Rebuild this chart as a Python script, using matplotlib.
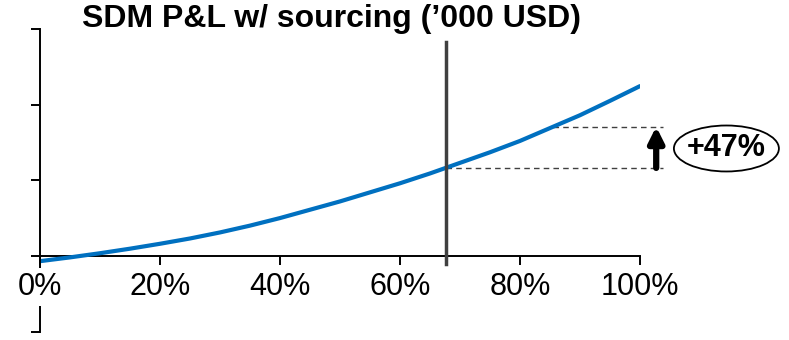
import numpy as np
import matplotlib
matplotlib.use('Agg')
from matplotlib import pyplot as plt
from matplotlib.patches import Ellipse

# share of volume sourced vs P&L ('000 USD, scaled units)
share = [0.0, 0.05, 0.1, 0.15, 0.2, 0.25, 0.3, 0.35, 0.4, 0.45, 0.5,
         0.55, 0.6, 0.65, 0.7, 0.75, 0.8, 0.85, 0.9, 0.95, 1.0]
pnl = [-0.07, -0.02, 0.035, 0.095, 0.16, 0.23, 0.31, 0.40, 0.50, 0.61, 0.72,
       0.84, 0.96, 1.09, 1.23, 1.37, 1.52, 1.69, 1.86, 2.05, 2.245]

x_ticks = [0, 0.2, 0.4, 0.6, 0.8, 1.0]
x_labels = ['0%', '20%', '40%', '60%', '80%', '100%']
y_ticks = [-1, 0, 1, 2, 3]

current_share = 0.676
uplift = 47  # percent

plt.rcParams['font.family'] = ['Liberation Sans', 'DejaVu Sans']

fig = plt.figure(figsize=(7.89, 3.40), dpi=100)
ax = fig.add_axes([40 / 789, 8.5 / 340, 600 / 789, 302.5 / 340])

ax.plot(share, pnl, color='#0070C0', lw=3, solid_capstyle='round',
        solid_joinstyle='round', zorder=3)

# P&L at current share and the uplifted level
base = np.interp(current_share, share, pnl)
target = base * (1 + uplift / 100)
target_share = np.interp(target, pnl, share)

ax.plot([current_share, current_share], [-0.11, 2.83], color='#404040', lw=2.5, zorder=4)
ax.plot([current_share, 1.038], [base, base], color='#404040', lw=1, ls=(0, (4, 3)), clip_on=False)
ax.plot([target_share, 1.038], [target, target], color='#404040', lw=1, ls=(0, (4, 3)), clip_on=False)
ax.annotate('', xy=(1.027, target), xytext=(1.027, base),
            arrowprops=dict(arrowstyle='-|>,head_width=0.45,head_length=0.9',
                            color='black', lw=4.5, shrinkA=0, shrinkB=0),
            annotation_clip=False)
ax.add_patch(Ellipse((1.144, 1.42), 0.175, 0.608, facecolor='white',
                     edgecolor='black', lw=1.3, clip_on=False))
ax.text(1.143, 1.42, '+%d%%' % uplift, ha='center', va='center',
        fontsize=22, fontweight='bold')

ax.set_xlim(0, 1)
ax.set_ylim(-1, 3)
ax.spines['top'].set_visible(False)
ax.spines['right'].set_visible(False)
ax.spines['left'].set_position(('data', 0))
ax.spines['bottom'].set_position(('data', 0))
for s in ['left', 'bottom']:
    ax.spines[s].set_linewidth(1.4)
ax.set_xticks(x_ticks)
ax.set_xticklabels(x_labels, fontsize=22)
ax.set_yticks(y_ticks)
ax.set_yticklabels([])
ax.tick_params(axis='x', direction='out', length=6.5, width=1.4, pad=5)
ax.tick_params(axis='y', direction='out', length=6.5, width=1.4)
for lbl in ax.get_xticklabels():
    lbl.set_bbox(dict(facecolor='white', edgecolor='none', pad=3))
ax.xaxis.set_zorder(3)

fig.text(331 / 789, 1 - 27 / 340, 'SDM P&L w/ sourcing (\u2019000 USD)', ha='center',
         va='baseline', fontsize=23, fontweight='bold')

fig.savefig('out.png', dpi=100)
